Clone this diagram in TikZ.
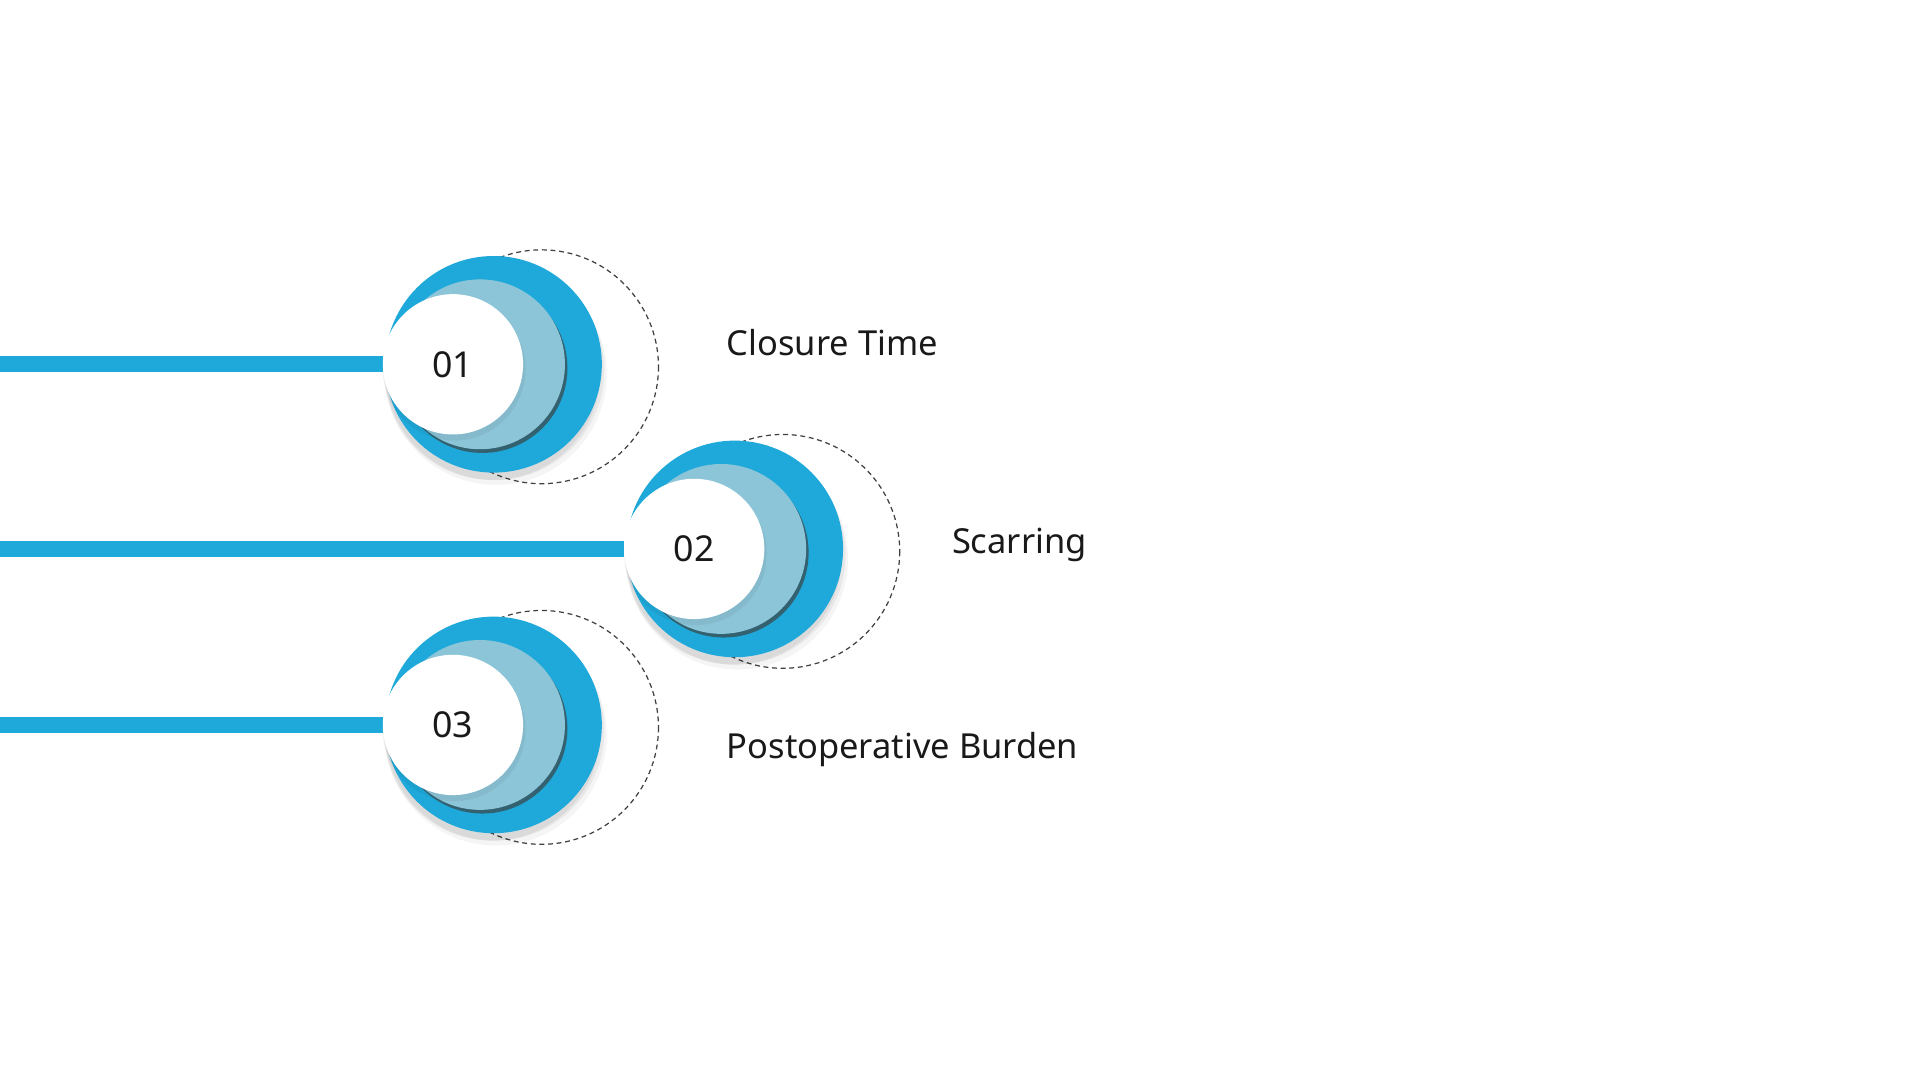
\documentclass[tikz,border=0pt]{standalone}
\usepackage{fontspec}
\setmainfont{Noto Sans}
\begin{document}
\begin{tikzpicture}[x=1pt,y=-1pt,
  bar/.style={line width=13pt,draw=barblue},
  dring/.style={draw=black!75,line width=1pt,dash pattern=on 4pt off 3pt},
  lbl/.style={anchor=west,font=\fontsize{28}{34}\selectfont,text=black!90},
  num/.style={font=\fontsize{29}{34}\selectfont\bfseries,text=black!90}]
\definecolor{barblue}{HTML}{1FA9DA}
\definecolor{lblue}{HTML}{8CC5D8}
\useasboundingbox (0,0) rectangle (1560,878);
\fill[white] (0,0) rectangle (1560,878);
\foreach \i/\cx/\cy/\n/\t/\tx/\ty in {1/401/296/01/Closure Time/587/278,2/597/446/02/Scarring/770/443,3/401/589/03/Postoperative Burden/587/609}{
  \coordinate (s\i) at (0,\cy);
  \node[circle,minimum size=114pt,inner sep=0] (w\i) at (\cx-33,\cy) {};
  \fill[black,opacity=0.04] (\cx+2,\cy+8) circle (90);
  \fill[black,opacity=0.05] (\cx+1,\cy+5) circle (89);
  \draw[bar] (s\i) -- (w\i.west);
  \draw[dring] (\cx+39,\cy+2) circle (95);
  \fill[black,opacity=0.06] (\cx-1,\cy+6) circle (88);
  \fill[barblue] (\cx,\cy) circle (88);
  \fill[black!60!lblue,opacity=0.8] (\cx-9,\cy+3) circle (69);
  \fill[lblue] (\cx-11,\cy) circle (69);
  \fill[black,opacity=0.05] (\cx-32,\cy+4) circle (58);
  \fill[white] (w\i) circle (57);
  \node[num] at (w\i) {\n};
  \node[lbl] (t\i) at (\tx,\ty) {\t};
}
\end{tikzpicture}
\end{document}
